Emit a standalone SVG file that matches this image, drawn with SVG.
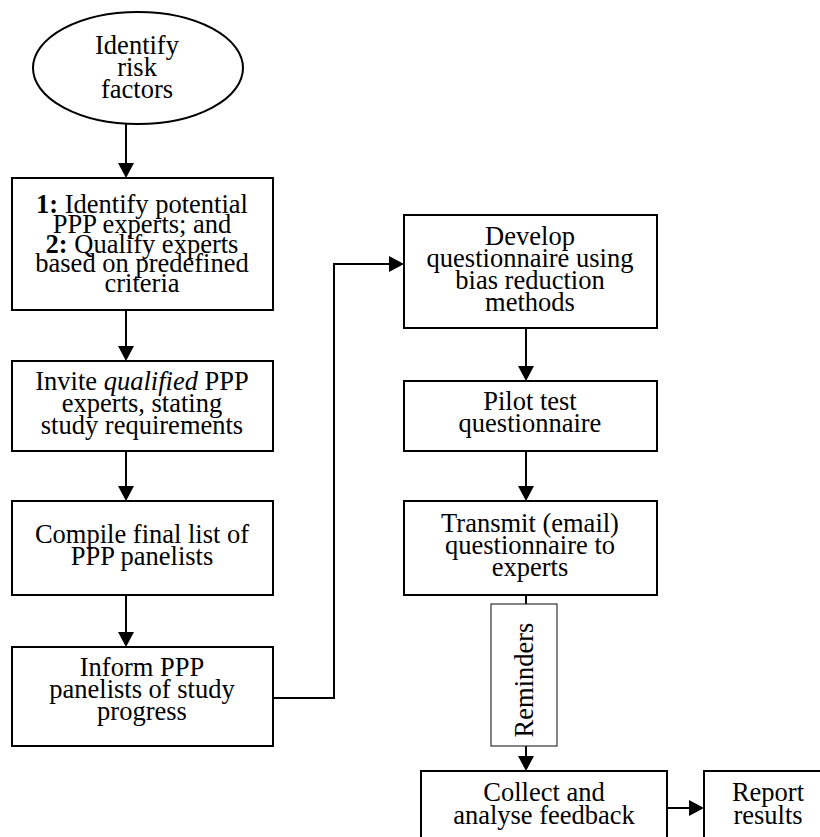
<svg xmlns="http://www.w3.org/2000/svg" width="820" height="837" viewBox="0 0 820 837">
<style>
.n{fill:#fff;stroke:#000;stroke-width:2}
.r{fill:#fff;stroke:#333;stroke-width:1.2}
.c{fill:none;stroke:#000;stroke-width:2}
text{font-family:"Liberation Serif","Times New Roman",serif;font-size:26.5px;fill:#000;text-anchor:middle}
</style>
<defs>
<marker id="ah" markerUnits="userSpaceOnUse" markerWidth="15" markerHeight="16" refX="13" refY="8" orient="auto">
<path d="M0,0 L15,8 L0,16 Z" fill="#000"/>
</marker>
</defs>
<rect width="820" height="837" fill="#fff"/>
<g id="connectors">
<line class="c" x1="126" y1="124" x2="126" y2="176" marker-end="url(#ah)"/>
<line class="c" x1="126" y1="310" x2="126" y2="359" marker-end="url(#ah)"/>
<line class="c" x1="126" y1="451" x2="126" y2="499" marker-end="url(#ah)"/>
<line class="c" x1="126" y1="595" x2="126" y2="645" marker-end="url(#ah)"/>
<polyline class="c" points="273,698 334,698 334,264 402,264" marker-end="url(#ah)"/>
<line class="c" x1="526" y1="328" x2="526" y2="379" marker-end="url(#ah)"/>
<line class="c" x1="526" y1="451" x2="526" y2="499" marker-end="url(#ah)"/>
<line class="c" x1="526" y1="595" x2="526" y2="769" marker-end="url(#ah)"/>
<line class="c" x1="667" y1="808" x2="702" y2="808" marker-end="url(#ah)"/>
</g>
<g id="n-identify-risk">
<ellipse class="n" cx="138" cy="68" rx="105" ry="56"/>
<text x="137" y="53.5">Identify</text>
<text x="137" y="75.5">risk</text>
<text x="137" y="97.5">factors</text>
</g>
<g id="n-identify-experts">
<rect class="n" x="12" y="178" width="261" height="132"/>
<text x="142" y="213"><tspan font-weight="bold">1:</tspan> Identify potential</text>
<text x="142" y="232.5">PPP experts; and</text>
<text x="142" y="252.5"><tspan font-weight="bold">2:</tspan> Qualify experts</text>
<text x="142" y="272">based on predefined</text>
<text x="142" y="291.5">criteria</text>
</g>
<g id="n-invite">
<rect class="n" x="12" y="361" width="261" height="90"/>
<text x="142" y="390">Invite <tspan font-style="italic">qualified</tspan> PPP</text>
<text x="142" y="412">experts, stating</text>
<text x="142" y="434">study requirements</text>
</g>
<g id="n-compile">
<rect class="n" x="12" y="501" width="261" height="94"/>
<text x="142" y="543">Compile final list of</text>
<text x="142" y="565">PPP panelists</text>
</g>
<g id="n-inform">
<rect class="n" x="12" y="647" width="261" height="99"/>
<text x="142" y="676">Inform PPP</text>
<text x="142" y="698">panelists of study</text>
<text x="142" y="720">progress</text>
</g>
<g id="n-develop">
<rect class="n" x="404" y="215" width="253" height="113"/>
<text x="530" y="244.5">Develop</text>
<text x="530" y="266.5">questionnaire using</text>
<text x="530" y="288.5">bias reduction</text>
<text x="530" y="310.5">methods</text>
</g>
<g id="n-pilot">
<rect class="n" x="404" y="381" width="253" height="70"/>
<text x="530" y="410">Pilot test</text>
<text x="530" y="431.5">questionnaire</text>
</g>
<g id="n-transmit">
<rect class="n" x="404" y="501" width="253" height="94"/>
<text x="530" y="531.5">Transmit (email)</text>
<text x="530" y="554">questionnaire to</text>
<text x="530" y="576">experts</text>
</g>
<g id="n-reminders">
<rect class="r" x="491" y="604" width="66" height="142"/>
<text transform="translate(533 680) rotate(-90)" x="0" y="0">Reminders</text>
</g>
<g id="n-collect">
<rect class="n" x="421" y="771" width="246" height="76"/>
<text x="544" y="800.5">Collect and</text>
<text x="544" y="823.5">analyse feedback</text>
</g>
<g id="n-report">
<rect class="n" x="704" y="771" width="130" height="76"/>
<text x="768" y="801">Report</text>
<text x="768" y="824">results</text>
</g>
</svg>
